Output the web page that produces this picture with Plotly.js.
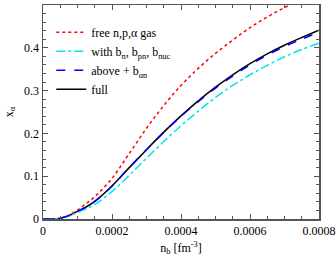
<!DOCTYPE html>
<html>
<head>
<meta charset="utf-8">
<script src="https://cdn.plot.ly/plotly-3.0.1.min.js"></script>
<style>html,body{margin:0;padding:0;background:#fff}#chart{width:336px;height:257px}</style>
</head>
<body>
<div id="chart"></div>
<script>
// baryon density n_b [fm^-3]
const nb = [0, 0.00003, 0.00005, 0.000075, 0.0001, 0.000125, 0.00015, 0.0002, 0.00025, 0.0003, 0.00035, 0.0004, 0.00045, 0.0005, 0.00055, 0.0006, 0.00065, 0.0007, 0.00075, 0.0008];
// alpha mass fraction x_alpha
const xFree  = [0, 0, 0.002, 0.009, 0.021, 0.036, 0.052, 0.095, 0.153, 0.212, 0.265, 0.312, 0.352, 0.387, 0.418, 0.447, 0.472, 0.494, 0.513, 0.530];
const xWithB = [0, 0, 0.002, 0.007, 0.015, 0.024, 0.034, 0.064, 0.102, 0.142, 0.181, 0.218, 0.252, 0.284, 0.312, 0.337, 0.359, 0.379, 0.396, 0.411];
const xAbove = [0, 0, 0.002, 0.008, 0.018, 0.028, 0.041, 0.077, 0.120, 0.162, 0.202, 0.240, 0.274, 0.306, 0.334, 0.360, 0.383, 0.403, 0.420, 0.437];
const xFull  = [0, 0, 0.002, 0.008, 0.018, 0.028, 0.041, 0.077, 0.120, 0.162, 0.203, 0.241, 0.276, 0.308, 0.337, 0.363, 0.386, 0.406, 0.424, 0.441];

const xTickVals = [0, 0.0002, 0.0004, 0.0006, 0.0008];
const xTickText = ["0", "0.0002", "0.0004", "0.0006", "0.0008"];
const yTickVals = [0, 0.1, 0.2, 0.3, 0.4, 0.5];
const yTickText = ["0", "0.1", "0.2", "0.3", "0.4", "0.5"];

const names = ["free n,p,\u03b1 gas", "with b<sub>n</sub>, b<sub>pn</sub>, b<sub>nuc</sub>", "above + b<sub>\u03b1n</sub>", "full"];

const serif = "Liberation Serif";
const traces = [
  {x: nb, y: xFull, name: names[3], legendrank: 4, mode: "lines", line: {color: "#000000", width: 1.5, dash: "solid", shape: "spline"}},
  {x: nb, y: xFree, name: names[0], legendrank: 1, mode: "lines", line: {color: "#ff0000", width: 1.5, dash: "dot", shape: "spline"}},
  {x: nb, y: xWithB, name: names[1], legendrank: 2, mode: "lines", line: {color: "#00e5ee", width: 1.5, dash: "dashdot", shape: "spline"}},
  {x: nb, y: xAbove, name: names[2], legendrank: 3, mode: "lines", line: {color: "#0000ff", width: 1.5, dash: "dash", shape: "spline"}}
];

const axisCommon = {
  showline: true, linecolor: "#555", linewidth: 1.5, mirror: "ticks",
  ticks: "inside", ticklen: 5, tickcolor: "#555", tickwidth: 1,
  showgrid: false, zeroline: false,
  tickfont: {family: serif, size: 12, color: "#000"}
};

const layout = {
  width: 336, height: 257,
  margin: {l: 43, r: 17, t: 5, b: 38},
  paper_bgcolor: "#fff", plot_bgcolor: "#fff",
  font: {family: serif, size: 12, color: "#000"},
  showlegend: true,
  legend: {x: 0.03, y: 0.94, xanchor: "left", yanchor: "top", bgcolor: "rgba(0,0,0,0)",
           font: {family: serif, size: 12, color: "#000"}, itemwidth: 30, tracegroupgap: 0},
  xaxis: Object.assign({}, axisCommon, {
    range: [0, 0.0008], tickmode: "array", tickvals: xTickVals, ticktext: xTickText,
    minor: {dtick: 0.00005, tick0: 0, ticks: "inside", ticklen: 3, tickcolor: "#555", showgrid: false},
    title: {text: "n<sub>b</sub> [fm<sup>-3</sup>]", font: {family: serif, size: 12}, standoff: 6}
  }),
  yaxis: Object.assign({}, axisCommon, {
    range: [0, 0.5], tickmode: "array", tickvals: yTickVals, ticktext: yTickText,
    minor: {dtick: 0.02, tick0: 0, ticks: "inside", ticklen: 3, tickcolor: "#555", showgrid: false},
    title: {text: "x<sub>\u03b1</sub>", font: {family: serif, size: 12}, standoff: 8}
  })
};

Plotly.newPlot("chart", traces, layout, {displayModeBar: false, staticPlot: true});
</script>
</body>
</html>
